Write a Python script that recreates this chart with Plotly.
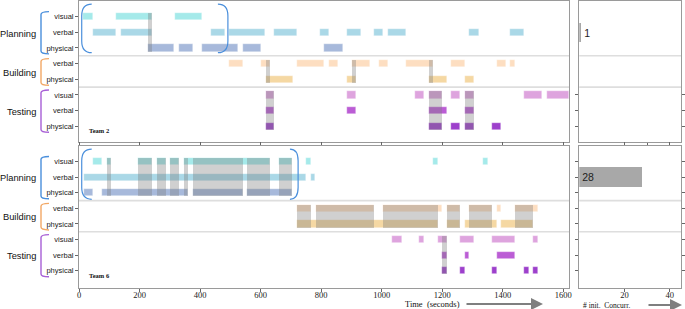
import plotly.graph_objects as go

TEAMS = ["Team 2", "Team 6"]
ROW_LABELS = ["visual", "verbal", "physical", "verbal", "physical", "visual", "verbal", "physical"]
GROUP_NAMES = ["Planning", "Building", "Testing"]
GROUP_ROWS = [(1, 3), (4, 5), (6, 8)]
X_TICKS = [0, 200, 400, 600, 800, 1000, 1200, 1400, 1600]
CONC_TICKS = [20, 40]
INIT_CONCURR = [1, 28]

# ---- Team 2 (start, end) in seconds ----
t2_plan_visual = [(13, 46), (122, 241), (317, 407)]
t2_plan_verbal = [(46, 122), (138, 241), (436, 483), (496, 615), (645, 720), (797, 826),
                  (886, 932), (975, 1005), (1021, 1081), (1289, 1322), (1425, 1471)]
t2_plan_physical = [(228, 314), (331, 377), (407, 525), (542, 602), (810, 873)]
t2_build_verbal = [(496, 542), (602, 631), (721, 810), (826, 856), (902, 962), (992, 1021),
                   (1081, 1170), (1230, 1276), (1382, 1412), (1425, 1441)]
t2_build_physical = [(618, 707), (886, 916), (1157, 1217), (1276, 1306)]
t2_test_visual = [(618, 645), (886, 916), (1111, 1140), (1157, 1200), (1230, 1260),
                  (1276, 1306), (1471, 1531), (1547, 1620)]
t2_test_verbal = [(618, 645), (886, 916), (1157, 1217), (1276, 1306)]
t2_test_physical = [(618, 645), (1157, 1200), (1230, 1260), (1276, 1306), (1365, 1395)]
t2_conc_plan = [(228, 241)]
t2_conc_build = [(618, 631), (902, 916), (1157, 1170)]
t2_conc_test = [(618, 645), (1157, 1200), (1276, 1306)]

# ---- Team 6 ----
t6_plan_visual = [(46, 76), (92, 106), (196, 241), (257, 287), (301, 331), (347, 631),
                  (660, 705), (750, 767), (1170, 1187), (1336, 1352)]
t6_plan_verbal = [(15, 750), (767, 780)]
t6_plan_physical = [(15, 46), (76, 361), (377, 542), (555, 705)]
t6_build_verbal = [(721, 767), (783, 975), (1005, 1200), (1217, 1260), (1289, 1365),
                   (1382, 1395), (1441, 1517)]
t6_build_physical = [(721, 1187), (1217, 1260), (1276, 1382), (1395, 1501)]
t6_test_visual = [(1035, 1068), (1124, 1140), (1187, 1217), (1260, 1306), (1365, 1441), (1501, 1517)]
t6_test_verbal = [(1200, 1217), (1276, 1289), (1382, 1441)]
t6_test_physical = [(1200, 1217), (1260, 1276), (1365, 1382), (1471, 1488), (1501, 1517)]
t6_conc_plan = [(92, 106), (196, 241), (257, 287), (301, 331), (347, 361), (377, 542),
                (555, 631), (660, 705)]
t6_conc_build = [(721, 767), (783, 975), (1005, 1187), (1217, 1260), (1289, 1365), (1441, 1501)]
t6_conc_test = [(1200, 1217)]

ROW_COLORS = ["#9ee9e9", "#a3d5e5", "#a0b4d8", "#fddcbc", "#f5d59c",
              "#dc9ddc", "#b650d2", "#9530c8"]
GROUP_COLORS = ["#4a8fdc", "#f2a866", "#a860d6"]
CONC_COLOR = "rgba(125,125,125,0.36)"
BAR_H = 0.46

team_rows = [
    [t2_plan_visual, t2_plan_verbal, t2_plan_physical, t2_build_verbal, t2_build_physical,
     t2_test_visual, t2_test_verbal, t2_test_physical],
    [t6_plan_visual, t6_plan_verbal, t6_plan_physical, t6_build_verbal, t6_build_physical,
     t6_test_visual, t6_test_verbal, t6_test_physical],
]
team_conc = [
    [t2_conc_plan, t2_conc_build, t2_conc_test],
    [t6_conc_plan, t6_conc_build, t6_conc_test],
]

SANS = "Liberation Sans"
SERIF = "Liberation Serif"

fig = go.Figure()
main_axes = [("x", "y"), ("x2", "y2")]
side_axes = [("x3", "y3"), ("x4", "y4")]

for ti in range(2):
    xa, ya = main_axes[ti]
    for r, iv in enumerate(team_rows[ti]):
        fig.add_trace(go.Bar(
            orientation="h", y=[r + 1] * len(iv), base=[s for s, e in iv],
            x=[e - s for s, e in iv], width=BAR_H,
            marker=dict(color=ROW_COLORS[r], opacity=0.92,
                        line=dict(color="rgba(255,255,255,0.7)", width=0.5)),
            xaxis=xa, yaxis=ya, hoverinfo="skip"))
    for g, iv in enumerate(team_conc[ti]):
        a, b = GROUP_ROWS[g]
        fig.add_trace(go.Bar(
            orientation="h", y=[(a + b) / 2] * len(iv), base=[s for s, e in iv],
            x=[e - s for s, e in iv], width=(b - a) + BAR_H,
            marker=dict(color=CONC_COLOR, line=dict(width=0)),
            xaxis=xa, yaxis=ya, hoverinfo="skip"))
    # concurrency count bar (aligned with Planning group)
    sx, sy = side_axes[ti]
    val = INIT_CONCURR[ti]
    tf = dict(family=SANS, size=10.5, color="#222")
    fig.add_trace(go.Bar(
        orientation="h", y=[2], x=[val], width=1.25,
        marker=dict(color="#a8a8a8", line=dict(width=0)),
        text=[str(val)], textposition="outside" if val < 5 else "inside",
        insidetextanchor="start", cliponaxis=False,
        textfont=tf, outsidetextfont=tf, insidetextfont=tf,
        xaxis=sx, yaxis=sy, hoverinfo="skip"))

LINE = "#9a9a9a"
tickfont_y = dict(family=SANS, size=7.5, color="#222")
tickfont_x = dict(family=SERIF, size=8.5, color="#222")
TOP_DOM = [0.509, 1.0]
BOT_DOM = [0.0, 0.495]
MAIN_DOM = [0.0, 0.8144]
SIDE_DOM = [0.831, 1.0]

common_x = dict(showgrid=False, zeroline=False, showline=True, linecolor=LINE, linewidth=1,
                ticks="outside", ticklen=3, tickcolor="#666", tickfont=tickfont_x,
                automargin=False, ticklabelstandoff=-4)
common_y = dict(showgrid=False, zeroline=False, showline=True, linecolor=LINE, linewidth=1,
                ticks="outside", ticklen=3, tickcolor="#666", tickfont=tickfont_y,
                automargin=False)

fig.update_layout(
    width=685, height=309, margin=dict(l=79, r=4, t=1, b=21),
    paper_bgcolor="white", plot_bgcolor="white", showlegend=False,
    barmode="overlay", bargap=0,
    xaxis=dict(domain=MAIN_DOM, anchor="y", range=[0, 1620], tickvals=X_TICKS,
               showticklabels=False, mirror=True, **common_x),
    yaxis=dict(domain=TOP_DOM, anchor="x", range=[9, 0], tickvals=list(range(1, 9)),
               ticktext=ROW_LABELS, mirror=True, **common_y),
    xaxis2=dict(domain=MAIN_DOM, anchor="y2", range=[0, 1620], tickvals=X_TICKS,
                mirror="ticks", **common_x),
    yaxis2=dict(domain=BOT_DOM, anchor="x2", range=[9.1, 0], tickvals=list(range(1, 9)),
                ticktext=ROW_LABELS, mirror=True, **common_y),
    xaxis3=dict(domain=SIDE_DOM, anchor="y3", range=[0, 45], tickvals=[20, 30, 40],
                showticklabels=False, mirror=True, **common_x),
    yaxis3=dict(domain=TOP_DOM, anchor="x3", range=[9, 0], tickvals=[6, 7, 8],
                showticklabels=False, mirror="ticks", **common_y),
    xaxis4=dict(domain=SIDE_DOM, anchor="y4", range=[0, 45], tickvals=CONC_TICKS,
                mirror="ticks", **common_x),
    yaxis4=dict(domain=BOT_DOM, anchor="x4", range=[9.1, 0], tickvals=list(range(1, 9)),
                showticklabels=False, mirror="ticks", **common_y),
)

shapes = []
annotations = []
# separators between groups
for ax_x, ax_y in main_axes + side_axes:
    for yv in (3.5, 5.5):
        shapes.append(dict(type="line", xref=f"{ax_x} domain", yref=ax_y, x0=0, x1=1,
                           y0=yv, y1=yv, line=dict(color="#dedede", width=1.6), layer="below"))

# group brackets and labels
bx0, bx1 = (41 - 79) / 602, (49 - 79) / 602
for ti, (ax_x, ax_y) in enumerate(main_axes):
    for g, (a, b) in enumerate(GROUP_ROWS):
        yt, yb = a - 0.32, b + 0.38
        c = 0.18
        path = (f"M {bx1},{yt} Q {bx0},{yt} {bx0},{yt + c} L {bx0},{yb - c} "
                f"Q {bx0},{yb} {bx1},{yb}")
        shapes.append(dict(type="path", xref="paper", yref=ax_y, path=path,
                           line=dict(color=GROUP_COLORS[g], width=1.4)))
        annotations.append(dict(text=GROUP_NAMES[g], xref="paper", yref=ax_y,
                                x=(38 - 79) / 602, y=(a + b) / 2 + 0.08, xanchor="right",
                                yanchor="middle", showarrow=False,
                                font=dict(family=SANS, size=9.3, color="#111")))
    annotations.append(dict(text=f"<b>{TEAMS[ti]}</b>", xref="paper", yref=ax_y,
                            x=(87 - 79) / 602, y=8.3, xanchor="left", yanchor="middle",
                            showarrow=False,
                            font=dict(family=SERIF, size=6.5, color="#111")))

# rounded brackets around the planning phase
paren = [((9, 42), (492, 459), 0.2, 3.3), ((9, 42), (724, 697), 0.2, 3.42)]
for ti, (ax_x, ax_y) in enumerate(main_axes):
    (lx0, lx1), (rx0, rx1), yt, yb = paren[ti]
    c = 0.75
    for x0, x1 in ((lx0, lx1), (rx0, rx1)):
        path = (f"M {x1},{yt} Q {x0},{yt} {x0},{yt + c} L {x0},{yb - c} "
                f"Q {x0},{yb} {x1},{yb}")
        shapes.append(dict(type="path", xref=ax_x, yref=ax_y, path=path,
                           line=dict(color="#4a8fdc", width=1.2)))

# axis titles with arrows
annotations.append(dict(text="Time  (seconds)", xref="paper", yref="paper",
                        x=(432 - 79) / 602, y=(288 - 304) / 287, xanchor="center",
                        yanchor="middle", showarrow=False,
                        font=dict(family=SERIF, size=8.5, color="#111")))
annotations.append(dict(text="", xref="paper", yref="paper", x=(543 - 79) / 602,
                        y=(288 - 304) / 287, ax=-78, ay=0, showarrow=True, arrowhead=2,
                        arrowsize=1.2, arrowwidth=2, arrowcolor="#7f7f7f"))
annotations.append(dict(text="# init.  Concurr.", xref="paper", yref="paper",
                        x=(606 - 79) / 602, y=(288 - 305) / 287, xanchor="center",
                        yanchor="middle", showarrow=False,
                        font=dict(family=SERIF, size=7.5, color="#111")))
annotations.append(dict(text="", xref="paper", yref="paper", x=(682 - 79) / 602,
                        y=(288 - 305) / 287, ax=-35, ay=0, showarrow=True, arrowhead=2,
                        arrowsize=1.2, arrowwidth=2, arrowcolor="#7f7f7f"))

fig.update_layout(shapes=shapes, annotations=annotations)
fig.write_html("out.html",
               config={"displayModeBar": False},
               post_script="document.body.style.margin='0';"
                           "document.body.style.overflow='hidden';")
